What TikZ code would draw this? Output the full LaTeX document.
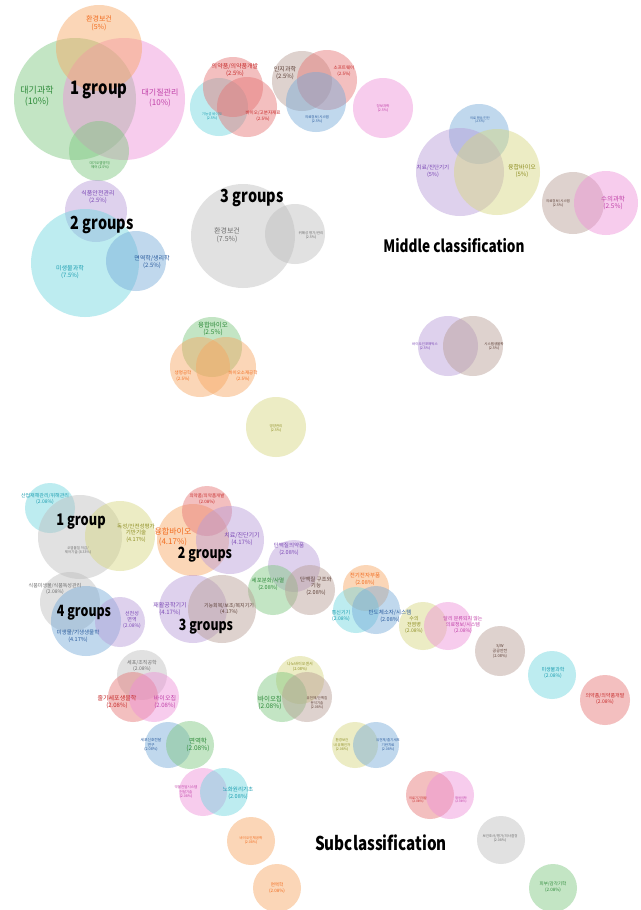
\documentclass[tikz,border=0pt]{standalone}
\usepackage{fontspec}
\setmainfont{Noto Sans CJK KR}
\newfontfamily\grpfont[FakeStretch=0.8]{Noto Sans CJK KR}
\definecolor{cOr}{HTML}{F7A660}\definecolor{tOr}{HTML}{F26B1D}
\definecolor{cGr}{HTML}{7CC67E}\definecolor{tGr}{HTML}{2E8B3A}
\definecolor{cPk}{HTML}{EE8FD8}\definecolor{tPk}{HTML}{C040A8}
\definecolor{cCy}{HTML}{6ED6DF}\definecolor{tCy}{HTML}{1A9DB0}
\definecolor{cRd}{HTML}{E57373}\definecolor{tRd}{HTML}{C62828}
\definecolor{cBr}{HTML}{B79C93}\definecolor{tBr}{HTML}{5D4037}
\definecolor{cBl}{HTML}{74A9D8}\definecolor{tBl}{HTML}{2B5C9E}
\definecolor{cPu}{HTML}{B79AD9}\definecolor{tPu}{HTML}{7B48B5}
\definecolor{cYe}{HTML}{D6D67E}\definecolor{tYe}{HTML}{8E8E22}
\definecolor{cGy}{HTML}{BDBDBD}\definecolor{tGy}{HTML}{6E6E6E}
\newcommand\bub[5]{\node[bubble,fill=#5,minimum size=#4*2pt] (#1) at (#2,#3) {};}
\newcommand\tx[6]{\node[lbl,text=#5,font=\fontsize{#4}{\dimexpr#4pt*6/5\relax}\selectfont] (#1) at (#2,#3) {#6};}
\newcommand\gl[5]{\node[grplbl,font=\grpfont\fontsize{#4}{#4}\selectfont\bfseries] (#1) at (#2,#3) {#5};}
\begin{document}
\begin{tikzpicture}[x=1pt,y=-1pt,
 bubble/.style={circle,inner sep=0pt,draw=none,fill opacity=0.45},
 lbl/.style={align=center,inner sep=0pt},
 grplbl/.style={inner sep=0pt,text=black}]
\useasboundingbox[fill=white] (0,0) rectangle (640,910);
% ---------- Middle classification bubbles
\bub{a1}{75}{99}{61}{cGr}
\bub{a2}{124}{99}{61}{cPk}
\bub{a3}{99}{48}{43}{cOr}
\bub{a4}{99}{151}{30}{cGr}
\bub{b1}{219}{107}{29}{cCy}
\bub{b2}{233}{87}{30}{cRd}
\bub{b3}{247}{107}{30}{cRd}
\bub{b4}{302}{81}{30}{cBr}
\bub{b5}{327}{80}{30}{cRd}
\bub{b6}{316}{102}{30}{cBl}
\bub{b7}{383}{108}{30}{cPk}
\bub{c1}{479}{134}{30}{cBl}
\bub{c2}{460}{172}{44}{cPu}
\bub{c3}{497}{172}{43}{cYe}
\bub{c4}{573}{203}{31}{cBr}
\bub{c5}{606}{203}{32}{cPk}
\bub{d1}{96}{211}{31}{cPu}
\bub{d2}{85}{263}{54}{cCy}
\bub{d3}{136}{261}{30}{cBl}
\bub{e1}{243}{236}{52}{cGy}
\bub{e2}{295}{234}{30}{cGy}
\bub{f1}{212}{347}{30}{cGr}
\bub{f2}{200}{367}{30}{cOr}
\bub{f3}{226}{367}{30}{cOr}
\bub{f4}{276}{427}{30}{cYe}
\bub{f5}{448}{346}{30}{cPu}
\bub{f6}{473}{346}{30}{cBr}
% ---------- Subclassification bubbles
\bub{g1}{50}{508}{25}{cCy}
\bub{g2}{80}{537}{42}{cGy}
\bub{g3}{120}{536}{35}{cYe}
\bub{h1}{193}{540}{36}{cOr}
\bub{h2}{207}{511}{25}{cRd}
\bub{h3}{230}{540}{34}{cPu}
\bub{i1}{294}{566}{26}{cPu}
\bub{i2}{273}{590}{25}{cGr}
\bub{i3}{310}{590}{25}{cBr}
\bub{j1}{70}{602}{30}{cGy}
\bub{j2}{86}{621}{35}{cBl}
\bub{j3}{120}{622}{25}{cPu}
\bub{k1}{193}{609}{34}{cPu}
\bub{k2}{222}{609}{34}{cBr}
\bub{l1}{366}{588}{23}{cOr}
\bub{l2}{356}{610}{23}{cCy}
\bub{l3}{376}{610}{24}{cBl}
\bub{m1}{423}{626}{24}{cYe}
\bub{m2}{448}{626}{24}{cPk}
\bub{m3}{500}{651}{25}{cBr}
\bub{m4}{552}{675}{24}{cCy}
\bub{m5}{605}{700}{25}{cRd}
\bub{n1}{142}{675}{25}{cGy}
\bub{n2}{133}{697}{25}{cRd}
\bub{n3}{154}{697}{25}{cPk}
\bub{o1}{300}{680}{24}{cYe}
\bub{o2}{282}{697}{25}{cGr}
\bub{o3}{307}{697}{25}{cBr}
\bub{p1}{168}{745}{23}{cBl}
\bub{p2}{190}{745}{24}{cGr}
\bub{q1}{355}{745}{23}{cYe}
\bub{q2}{376}{745}{23}{cBl}
\bub{r1}{203}{792}{24}{cPk}
\bub{r2}{224}{792}{24}{cCy}
\bub{s1}{430}{795}{24}{cRd}
\bub{s2}{450}{795}{24}{cPk}
\bub{t1}{251}{841}{24}{cOr}
\bub{t2}{277}{888}{24}{cOr}
\bub{t3}{501}{840}{24}{cGy}
\bub{t4}{553}{888}{24}{cGr}
% ---------- labels (middle)
\tx{la3}{99}{23}{7}{tOr}{환경보건\\(5\%)}
\tx{la1}{37}{96}{9}{tGr}{대기과학\\(10\%)}
\tx{la2}{160}{98}{8}{tPk}{대기질관리\\(10\%)}
\tx{la4}{100}{165}{3.5}{tGr}{대기오염방지/\\제어 (2.5\%)}
\tx{lb1}{212}{116}{3.5}{tCy}{기능성 바이오\\(2.5\%)}
\tx{lb2}{235}{70}{6}{tRd}{의약품/의약품개발\\(2.5\%)}
\tx{lb3}{263}{116}{4.5}{tRd}{바이오/고분자재료\\(2.5\%)}
\tx{lb4}{285}{73}{6}{tBr}{인지과학\\(2.5\%)}
\tx{lb5}{344}{71}{4.5}{tRd}{소프트웨어\\(2.5\%)}
\tx{lb6}{317}{119}{3.5}{tBl}{의료정보/시스템\\(2.5\%)}
\tx{lb7}{383}{108}{3.5}{tPk}{정보과학\\(2.5\%)}
\tx{lc1}{480}{120}{3.2}{tBl}{의료 영상/진단\\(2.5\%)}
\tx{lc2}{433}{171}{5.5}{tPu}{치료/진단기기\\(5\%)}
\tx{lc3}{522}{171}{6}{tYe}{융합바이오\\(5\%)}
\tx{lc4}{558}{203}{3.5}{tBr}{의료정보/시스템\\(2.5\%)}
\tx{lc5}{613}{203}{6.5}{tPk}{수의과학\\(2.5\%)}
\tx{ld1}{98}{197}{6}{tPu}{식품안전관리\\(2.5\%)}
\tx{ld2}{70}{272}{6}{tCy}{미생물과학\\(7.5\%)}
\tx{ld3}{152}{262}{6}{tBl}{면역학/생리학\\(2.5\%)}
\tx{le1}{227}{235}{7}{tGy}{환경보건\\(7.5\%)}
\tx{le2}{311}{235}{3.5}{tGy}{위해성 평가/관리\\(2.5\%)}
\tx{lf1}{213}{329}{6.5}{tGr}{융합바이오\\(2.5\%)}
\tx{lf2}{183}{376}{4.5}{tOr}{생명공학\\(2.5\%)}
\tx{lf3}{243}{376}{4.5}{tOr}{바이오소재공학\\(2.5\%)}
\tx{lf4}{276}{428}{3.5}{tYe}{영양관리\\(2.5\%)}
\tx{lf5}{425}{346}{3.5}{tPu}{바이오인포매틱스\\(2.5\%)}
\tx{lf6}{494}{346}{3.5}{tBr}{시스템생물학\\(2.5\%)}
% ---------- labels (sub)
\tx{lg1}{45}{499}{5}{tCy}{산업재해관리/위해관리\\(2.08\%)}
\tx{lg2}{78}{550}{3.5}{tGy}{오염물질 저감/\\제어기술 (8.33\%)}
\tx{lg3}{136}{533}{5.5}{tYe}{독성/안전성평가\\기반기술\\(4.17\%)}
\tx{lh1}{173}{537}{8}{tOr}{융합바이오\\(4.17\%)}
\tx{lh2}{207}{499}{4.5}{tRd}{의약품/의약품개발\\(2.08\%)}
\tx{lh3}{242}{539}{6}{tPu}{치료/진단기기\\(4.17\%)}
\tx{li1}{289}{549}{5.5}{tPu}{단백질의약품\\(2.08\%)}
\tx{li2}{268}{584}{5.5}{tGr}{세포분화/사멸\\(2.08\%)}
\tx{li3}{316}{586}{5.5}{tBr}{단백질 구조와\\기능\\(2.08\%)}
\tx{lj1}{55}{589}{5}{tGy}{식품미생물/식품독성관리\\(2.08\%)}
\tx{lj2}{78}{636}{5.5}{tBl}{미생물/기생생물학\\(4.17\%)}
\tx{lj3}{132}{620}{5}{tPu}{선천성\\면역\\(2.08\%)}
\tx{lk1}{170}{609}{6}{tPu}{재활공학기기\\(4.17\%)}
\tx{lk2}{229}{609}{5}{tBr}{기능회복/보조/복지기기\\(4.17\%)}
\tx{ll1}{365}{579}{5.5}{tOr}{전기전자부품\\(2.08\%)}
\tx{ll2}{341}{616}{5}{tCy}{통신기기\\(2.08\%)}
\tx{ll3}{390}{616}{5.5}{tBl}{반도체소자/시스템\\(2.08\%)}
\tx{lm1}{414}{625}{5}{tYe}{수의\\전염병\\(2.08\%)}
\tx{lm2}{463}{625}{5}{tPk}{달리 분류되지 않는\\의료정보/시스템\\(2.08\%)}
\tx{lm3}{500}{651}{4}{tBr}{S/W\\공공안전\\(2.08\%)}
\tx{lm4}{553}{673}{5}{tCy}{미생물과학\\(2.08\%)}
\tx{lm5}{605}{699}{5}{tRd}{의약품/의약품개발\\(2.08\%)}
\tx{ln1}{142}{666}{5}{tGy}{세포/조직공학\\(2.08\%)}
\tx{ln2}{117}{702}{6}{tRd}{줄기세포생물학\\(2.08\%)}
\tx{ln3}{165}{702}{6}{tPk}{바이오칩\\(2.08\%)}
\tx{lo1}{300}{667}{4}{tYe}{나노바이오센서\\(2.08\%)}
\tx{lo2}{270}{703}{6.5}{tGr}{바이오칩\\(2.08\%)}
\tx{lo3}{317}{703}{3.5}{tBr}{유전체/단백질\\분석기술\\(2.08\%)}
\tx{lp1}{151}{745}{3.8}{tBl}{세포신호전달\\연구\\(2.08\%)}
\tx{lp2}{198}{745}{6.5}{tGr}{면역학\\(2.08\%)}
\tx{lq1}{342}{745}{3.5}{tYe}{환경보건\\내 유해인자\\(2.08\%)}
\tx{lq2}{388}{745}{3.5}{tBl}{유전체/줄기세포\\기반치료\\(2.08\%)}
\tx{lr1}{186}{792}{3.5}{tPk}{약물전달시스템\\전달기술\\(2.08\%)}
\tx{lr2}{238}{793}{5.5}{tCy}{노화원리기초\\(2.08\%)}
\tx{ls1}{418}{800}{3.2}{tRd}{의료기기개발\\(2.08\%)}
\tx{ls2}{461}{800}{3.2}{tPk}{재생의학\\(2.08\%)}
\tx{lt1}{251}{840}{3.5}{tOr}{바이오인체공학\\(2.08\%)}
\tx{lt2}{277}{888}{4.5}{tOr}{면역학\\(2.08\%)}
\tx{lt3}{500}{838}{3.5}{tGy}{보건조사/평가/의사결정\\(2.08\%)}
\tx{lt4}{553}{887}{4.5}{tGr}{피부/감각기학\\(2.08\%)}
% ---------- group labels
\gl{G1}{99}{90}{18.5}{1 group}
\gl{G2}{102}{225}{18}{2 groups}
\gl{G3}{252}{198}{18}{3 groups}
\gl{G4}{454}{246}{17}{Middle classification}
\gl{H1}{81}{522}{16}{1 group}
\gl{H2}{205}{555}{15.5}{2 groups}
\gl{H3}{206}{627}{15.5}{3 groups}
\gl{H4}{84}{613}{15.5}{4 groups}
\gl{H5}{381}{843}{19}{Subclassification}
\end{tikzpicture}
\end{document}
